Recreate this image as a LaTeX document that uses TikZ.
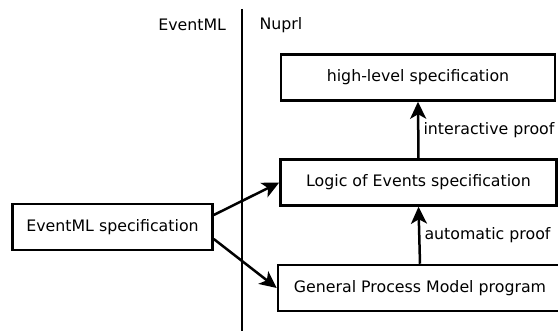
\documentclass[tikz,border=0pt]{standalone}
\usepackage{fontspec}
\setmainfont{DejaVu Sans}
\usetikzlibrary{arrows.meta,positioning}
\begin{document}
\begin{tikzpicture}[x=1pt,y=1pt,
  every node/.style={font=\fontsize{15.8}{18}\selectfont},
  stagebox/.style={draw,line width=2.5pt,minimum height=46pt,inner sep=0pt},
  flow/.style={line width=2.5pt,-{Stealth[length=17pt,width=16pt,inset=4.5pt]}},
  tag/.style={right,inner sep=4pt}]
  \useasboundingbox (0,0) rectangle (558,331);

  % column headings and divider
  \node[anchor=east] (hml) at (229.5,306) {EventML};
  \node[anchor=west] (hnp) at (256,306) {Nuprl};
  \coordinate (divtop) at (242,322);
  \coordinate (divbot) at (242,0);
  \draw[line width=2pt] (divtop) -- (divbot);

  % stages
  \node[stagebox,minimum width=274pt] (high) at (418,253.5) {high-level specification};
  \node[stagebox,minimum width=276pt] (loe) at (418.5,148.5) {Logic of Events specification};
  \node[stagebox,minimum width=284pt] (gpm) at (420,43) {General Process Model program};
  \node[stagebox,minimum width=200pt] (eml) at (112.5,104) {EventML specification};

  % derivations
  \draw[flow] ([yshift=12pt]eml.east) -- (loe.west);
  \draw[flow] ([yshift=-12pt]eml.east) -- (gpm.west);
  \draw[flow] (loe.north) -- node[tag] {interactive proof} (high.south);
  \draw[flow] (gpm.north) -- node[tag] {automatic proof} (loe.south);
\end{tikzpicture}
\end{document}
